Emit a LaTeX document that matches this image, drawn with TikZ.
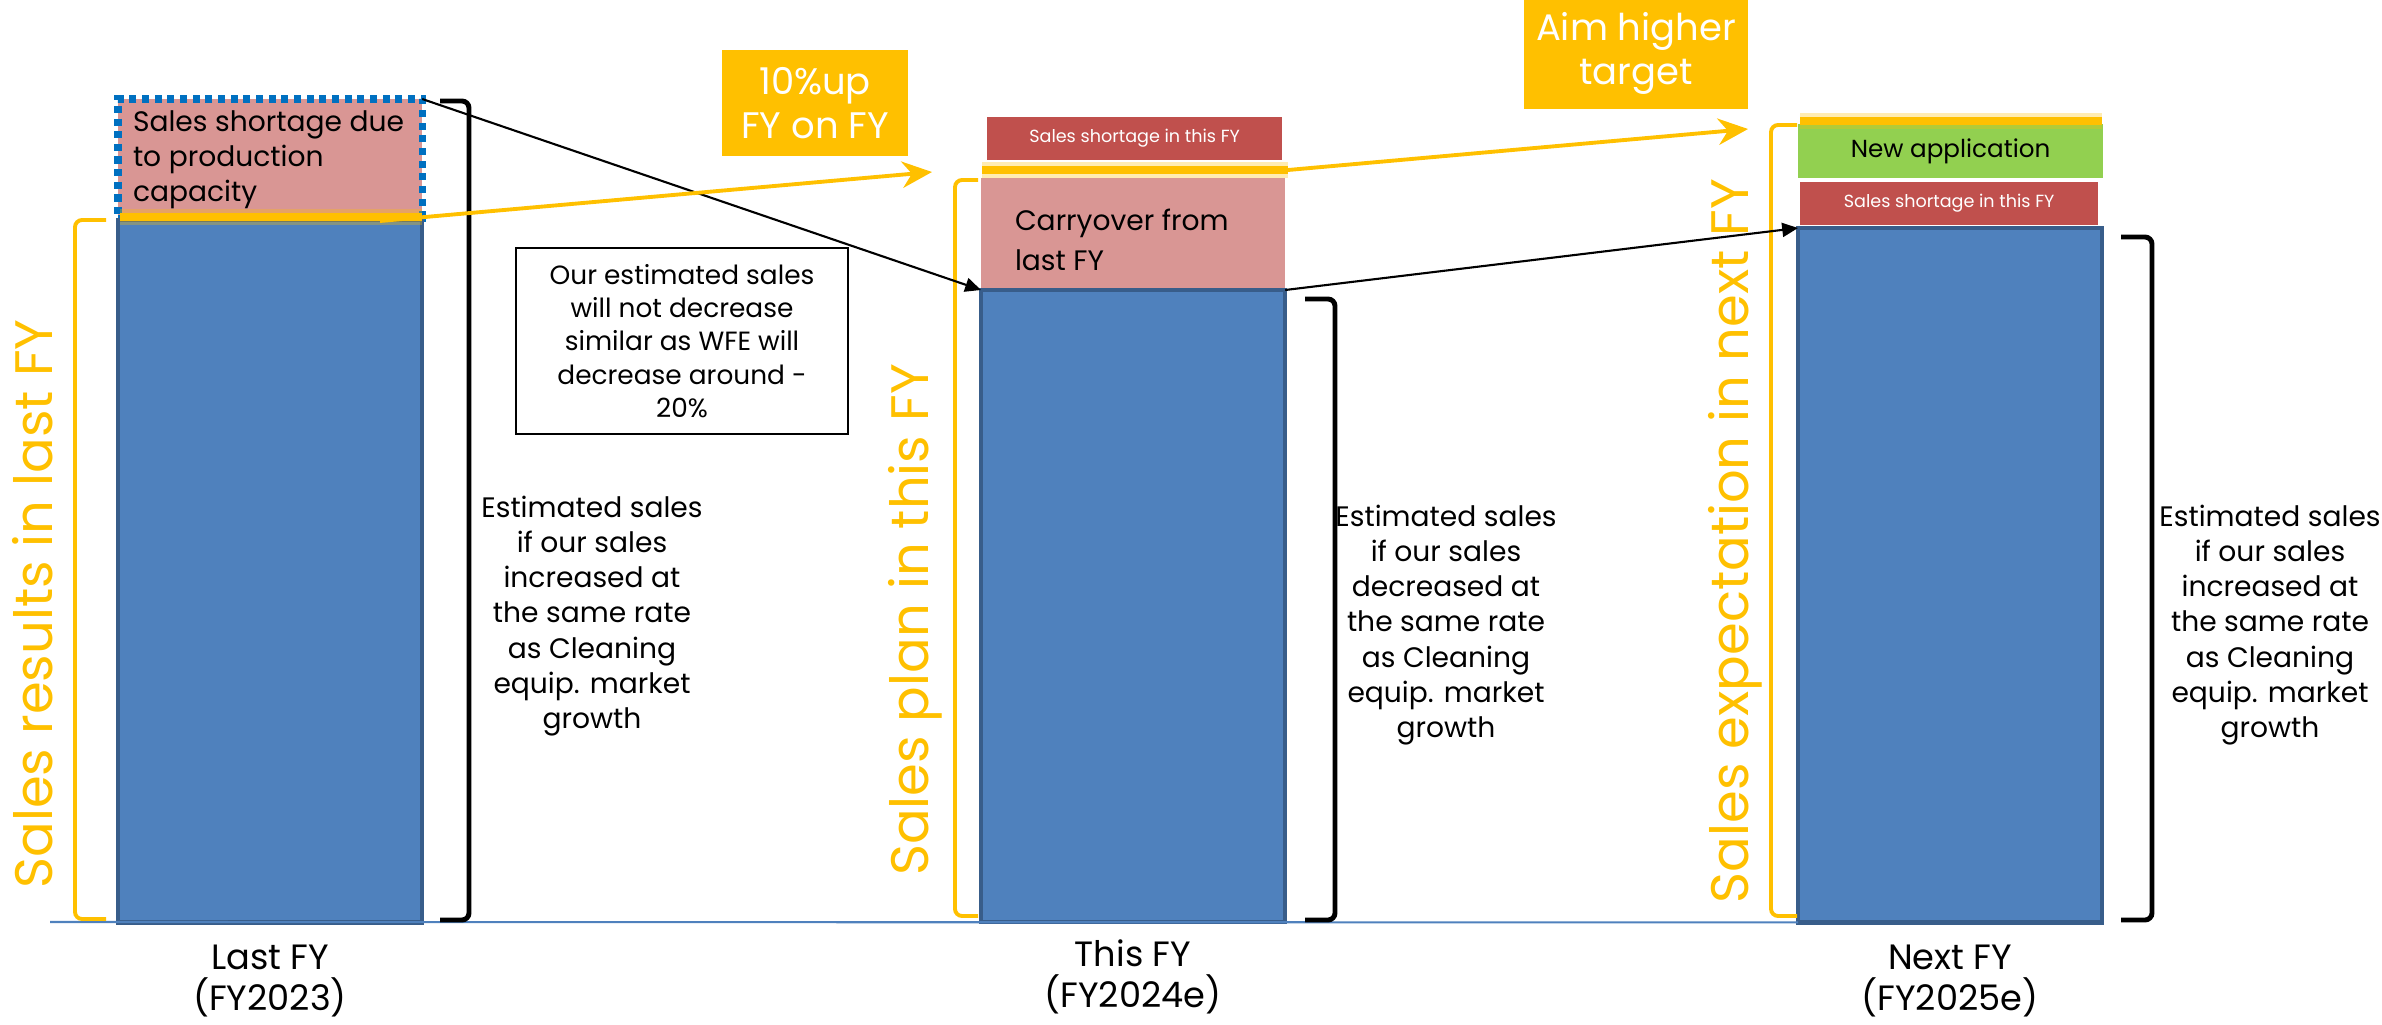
\documentclass[tikz,border=0pt]{standalone}
\usepackage{fontspec}
\setmainfont{Poppins}
\usetikzlibrary{arrows.meta}

\definecolor{barblue}{HTML}{4F81BD}
\definecolor{baredge}{HTML}{385D8A}
\definecolor{shortpink}{HTML}{D99694}
\definecolor{shortred}{HTML}{C0504D}
\definecolor{newgreen}{HTML}{92D050}
\definecolor{aimgold}{HTML}{FFC000}
\definecolor{dotblue}{HTML}{0070C0}

\begin{document}
\begin{tikzpicture}
  [x=0.01cm,y=-0.01cm,
   every node/.style={inner sep=0pt,outer sep=0pt},
   bar/.style={draw=baredge,fill=barblue,line width=1.2pt,anchor=north west,minimum width=3.04cm},
   block/.style={anchor=north west,minimum width=3.04cm},
   goldbar/.style={aimgold,line width=2.2pt},
   glow/.style={aimgold,opacity=0.3,line width=4.5pt},
   goldbracket/.style={aimgold,line width=1.1pt,rounded corners=2pt},
   blackbracket/.style={line width=1.4pt,rounded corners=2pt},
   goldarrow/.style={aimgold,line width=1.1pt,-{Stealth[length=8.5pt,width=7.5pt]}},
   blackarrow/.style={line width=0.6pt,-{Triangle[length=4.5pt,width=4pt]}},
   sidelabel/.style={aimgold,rotate=90,font=\fontsize{15}{17}\selectfont},
   esttext/.style={align=center,font=\fontsize{8}{10}\selectfont},
   yearlabel/.style={align=center,font=\fontsize{10}{11.5}\selectfont},
   callout/.style={fill=aimgold,text=white,align=center,font=\fontsize{10.5}{12.5}\selectfont},
   redtext/.style={text=white,font=\fontsize{5}{6}\selectfont}]

\useasboundingbox (0,0) rectangle (2382,1024);

\coordinate (axis0) at (50,922);

\node [block,fill=shortpink,draw=dotblue,line width=2pt,dash pattern=on 2pt off 1.6pt,
       minimum height=1.19cm] (short1) at (118,99) {};
\node [anchor=west,align=left,font=\fontsize{8}{10}\selectfont] (short1txt) at (133,160)
       {Sales shortage due\\to production\\capacity};
\node [bar,minimum height=7.02cm] (bar1) at (118,220) {};

\node [block,fill=shortred,minimum width=2.95cm,minimum height=0.43cm,redtext] (short2) at (987,117)
       {Sales shortage in this FY};
\node [block,fill=shortpink,minimum height=1.12cm] (carry2) at (981,178) {};
\node [anchor=west,align=left,font=\fontsize{8}{11.5}\selectfont] (carry2txt) at (1015,240)
       {Carryover from\\last FY};
\node [bar,minimum height=6.32cm] (bar2) at (981,290) {};

\node [block,fill=newgreen,minimum width=3.05cm,minimum height=0.54cm,font=\fontsize{7}{8}\selectfont]
       (new3) at (1798,124) {New application};
\node [block,fill=shortred,minimum width=2.98cm,minimum height=0.43cm,redtext] (short3) at (1800,182)
       {Sales shortage in this FY};
\node [bar,minimum height=6.94cm] (bar3) at (1798,228) {};

\draw [barblue,line width=0.6pt] (axis0) -- (bar3.south west);

\draw [glow]    (120,217) -- (422,217) (982,170) -- (1288,170) (1800,121) -- (2102,121);
\draw [goldbar] (120,217) -- (422,217) (982,170) -- (1288,170) (1800,121) -- (2102,121);

\draw [goldbracket] (106,220) -- (75,220) -- (75,919) -- (106,919);
\draw [goldbracket] (978,180) -- (955,180) -- (955,916) -- (978,916);
\draw [goldbracket] (1797,125) -- (1771,125) -- (1771,916) -- (1797,916);

\draw [blackbracket] (440,101) -- (469,101) -- (469,920) -- (440,920);
\draw [blackbracket] (1305,299) -- (1335,299) -- (1335,920) -- (1305,920);
\draw [blackbracket] (2121,237) -- (2152,237) -- (2152,920) -- (2121,920);

\node [sidelabel] (res1) at (33,604) {Sales results in last FY};
\node [sidelabel] (plan2) at (915,620) {Sales plan in this FY};
\node [sidelabel] (exp3) at (1735,541) {Sales expectation in next FY};

\node [callout,minimum width=1.85cm,minimum height=1.06cm] (up10) at (815,103) {10\%up\\FY on FY};
\node [callout,minimum width=2.24cm,minimum height=1.12cm] (aim) at (1636,53) {Aim higher\\target};

\node [draw,line width=0.6pt,minimum width=3.32cm,minimum height=1.86cm,align=center,
       font=\fontsize{7.5}{9.5}\selectfont] (note) at (682,341)
       {Our estimated sales\\will not decrease\\similar as WFE will\\decrease around -\\20\%};

\node [esttext] (est1) at (592,616)
      {Estimated sales\\if our sales\\increased at\\the same rate\\as Cleaning\\equip. market\\growth};
\node [esttext] (est2) at (1446,625)
      {Estimated sales\\if our sales\\decreased at\\the same rate\\as Cleaning\\equip. market\\growth};
\node [esttext] (est3) at (2270,625)
      {Estimated sales\\if our sales\\increased at\\the same rate\\as Cleaning\\equip. market\\growth};

\node [yearlabel] (yr1) at (270,981) {Last FY\\(FY2023)};
\node [yearlabel] (yr2) at (1133,977) {This FY\\(FY2024e)};
\node [yearlabel] (yr3) at (1950,981) {Next FY\\(FY2025e)};

\coordinate (up1s) at (380,221);
\coordinate (up1e) at (932,172);
\coordinate (up2e) at (1748,129);

\draw [blackarrow] (short1.north east) -- (bar2.north west);
\draw [blackarrow] (bar2.north east) -- (bar3.north west);
\draw [goldarrow] (up1s) -- (up1e);
\draw [goldarrow] (1288,170) -- (up2e);
\end{tikzpicture}
\end{document}
